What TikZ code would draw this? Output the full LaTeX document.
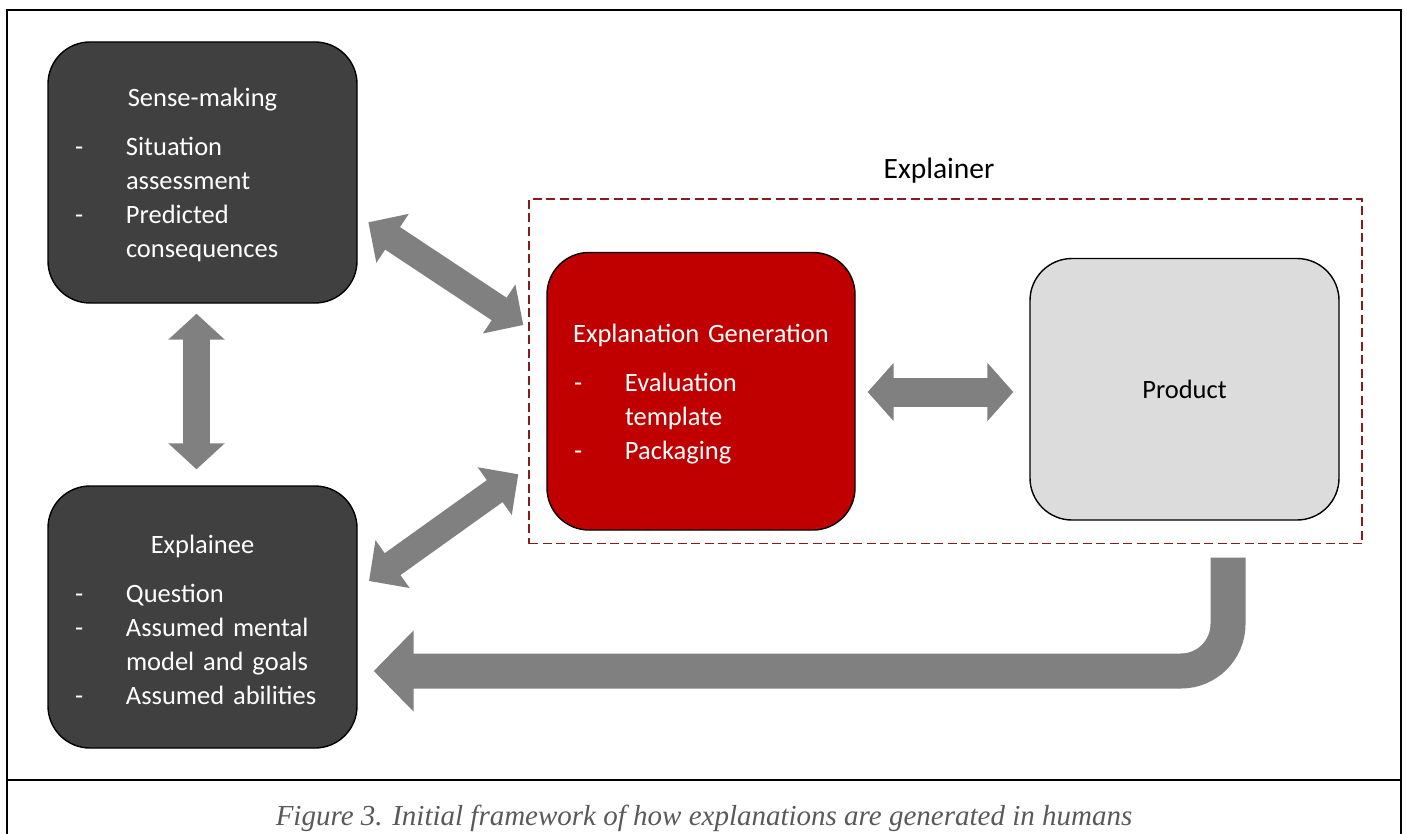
\documentclass[tikz,border=0pt]{standalone}
\usepackage{fontspec}
\setmainfont{Carlito}
\newfontfamily\captionfont{Liberation Serif}
\usetikzlibrary{arrows.meta,calc}

\definecolor{panelgray}{HTML}{404040}
\definecolor{panelred}{HTML}{C00000}
\definecolor{productgray}{HTML}{DCDCDC}
\definecolor{flowgray}{HTML}{808080}
\definecolor{framered}{HTML}{8B1A1A}
\definecolor{captiongray}{HTML}{595959}

% centred heading of a panel, followed by a little extra space
\newcommand{\paneltitle}[1]{\noindent\makebox[\hsize][c]{#1}\par\vspace{15pt}}
% dash list entry with a hanging indent for wrapped lines
\newcommand{\dashitem}[1]{\par\hangindent=51pt\hangafter=1\noindent\makebox[51pt][l]{-}#1}
% closes the list and lowers the block slightly inside its panel
\newcommand{\panelend}{\par\vspace{-5.5pt}}

\begin{document}
\begin{tikzpicture}[x=1pt,y=-1pt,
  panel/.style={draw=black, line width=1.4pt, rounded corners=42pt,
    text=white, align=left, text width=255pt, inner xsep=27pt, inner ysep=0pt,
    minimum width=309pt, font=\fontsize{26.5}{34}\selectfont},
  darkpanel/.style={panel, fill=panelgray},
  redpanel/.style={panel, fill=panelred},
  productpanel/.style={draw=black, line width=1.4pt, rounded corners=42pt,
    fill=productgray, text=black, minimum width=309pt,
    font=\fontsize{26.5}{34}\selectfont},
  groupframe/.style={draw=framered, line width=1.8pt, dash pattern=on 9pt off 4.5pt},
  flow/.style={draw=flowgray, line width=27pt,
    {Triangle[length=26pt,width=55pt]}-{Triangle[length=26pt,width=55pt]}},
  diagflow/.style={draw=flowgray, line width=27pt,
    {Triangle[length=29pt,width=57pt]}-{Triangle[length=29pt,width=57pt]}},
  returnflow/.style={draw=flowgray, line width=35pt, rounded corners=47pt,
    -{Triangle[length=40pt,width=79pt]}},
]
\useasboundingbox (0,0) rectangle (1407,834);

% outer frame and caption strip
\draw[line width=2.5pt] (7,840) -- (7,10) -- (1401,10) -- (1401,840);
\draw[line width=2.5pt] (7,780) -- (1401,780);

% left column
\node[darkpanel, minimum height=261pt] (sense) at (202.5,172.5) {%
  \paneltitle{Sense-making}%
  \dashitem{Situation\newline assessment}%
  \dashitem{Predicted\newline consequences}\panelend};

\node[darkpanel, minimum height=262pt] (explainee) at (202.5,617) {%
  \paneltitle{Explainee}%
  \dashitem{Question}%
  \dashitem{Assumed mental\newline model and goals}%
  \dashitem{Assumed abilities}\panelend};

% explainer group
\node[groupframe, minimum width=833pt, minimum height=344.5pt] (explainer) at (945.5,371.25) {};
\node[font=\fontsize{29.5}{34}\selectfont] (explainerlabel) at ($(explainer.north)+(-6.5,-27)$) {Explainer};

\node[redpanel, minimum width=308pt, text width=254pt, minimum height=277.5pt] (gen) at (701,391.25) {%
  \paneltitle{Explanation Generation}%
  \dashitem{Evaluation\newline template}%
  \dashitem{Packaging}\panelend};

\node[productpanel, minimum height=261.5pt] (product) at (1184.5,389.25) {Product};

% connectors
\draw[flow] ($(sense.south)+(-6,10)$) -- ($(explainee.north)+(-6,-16)$);
\draw[diagflow] ($(sense.east)+(10.7,49.8)$) -- ($(gen.west)+(-23,-66.25)$);
\draw[diagflow] ($(explainee.east)+(11.3,-36)$) -- ($(gen.west)+(-28,83)$);
\draw[flow, line width=29pt,
  {Triangle[length=26pt,width=57pt]}-{Triangle[length=26pt,width=57pt]}]
  ($(gen.east)+(12,0.75)$) -- ($(product.west |- gen.east)+(-16,0.75)$);
\draw[returnflow] ($(product.south)+(43.5,37)$) |- ($(explainee.east)+(16,54)$);

% caption
\node[font=\captionfont\itshape\fontsize{29}{34}\selectfont, text=captiongray, anchor=base]
  (caption) at (704,825) {Figure 3. Initial framework of how explanations are generated in humans};
\end{tikzpicture}
\end{document}
